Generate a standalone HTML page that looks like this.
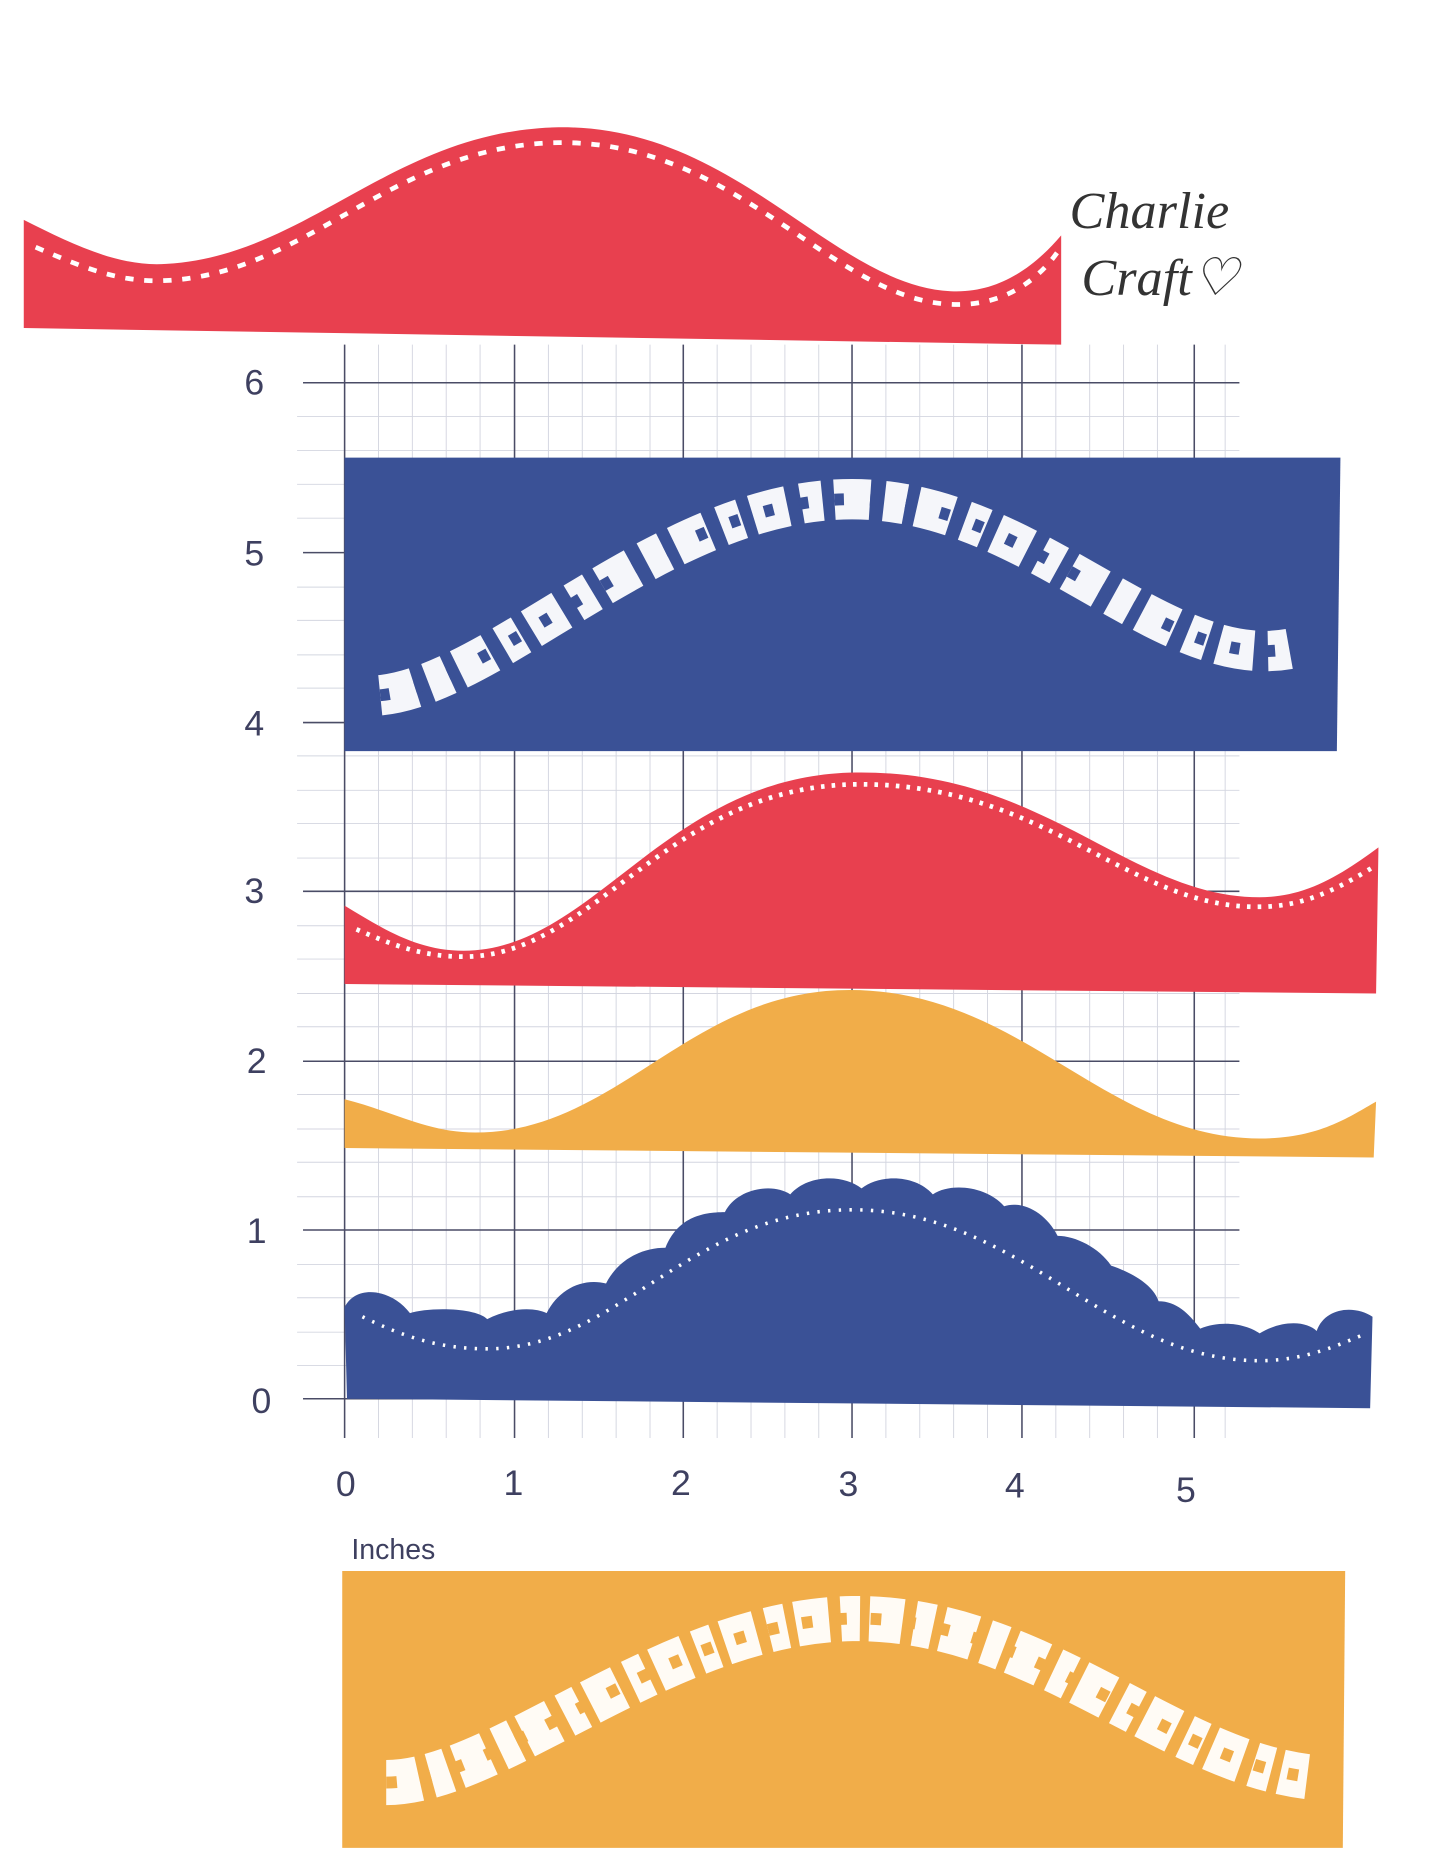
<!DOCTYPE html>
<html><head><meta charset="utf-8"><style>html,body{margin:0;padding:0;background:#fff}svg{display:block}</style></head><body>
<svg width="1445" height="1867" viewBox="0 0 1216 1571" xmlns="http://www.w3.org/2000/svg">
<rect width="1216" height="1571" fill="#fff"/>
<!-- minor grid -->
<g stroke="#d4d6e0" stroke-width="0.8">
<path d="M290 290V1210M318.5 290V1210M347 290V1210M375.5 290V1210M404 290V1210M461.5 290V1210M490 290V1210M518.5 290V1210M547 290V1210M603.5 290V1210M632 290V1210M660.5 290V1210M689 290V1210M745.5 290V1210M774 290V1210M802.5 290V1210M831 290V1210M888.5 290V1210M917 290V1210M945.5 290V1210M974 290V1210M1031 290V1210"/>
<path d="M250 350.5H1043M250 379H1043M250 407.5H1043M250 436H1043M250 494H1043M250 522H1043M250 551H1043M250 579H1043M250 636H1043M250 665H1043M250 693H1043M250 722H1043M250 779H1043M250 807H1043M250 836H1043M250 864H1043M250 921H1043M250 950H1043M250 978H1043M250 1007H1043M250 1064H1043M250 1092H1043M250 1121H1043M250 1149H1043"/>
</g>
<g stroke="#4a4c66" stroke-width="1.3">
<path d="M290 290V1210M433 290V1210M575 290V1210M717 290V1210M860 290V1210M1005 290V1210"/>
<path d="M255 322H1043M255 465H1043M255 608H1043M255 750H1043M255 893H1043M255 1035H1043M255 1177H1043"/>
</g>
<g font-family="Liberation Sans, sans-serif" font-size="30" fill="#3e4060" text-anchor="middle">
<text x="214" y="332">6</text><text x="214" y="476">5</text><text x="214" y="619">4</text><text x="214" y="760">3</text><text x="216" y="903">2</text><text x="216" y="1046">1</text><text x="220" y="1189">0</text>
<text x="291" y="1259">0</text><text x="432" y="1258">1</text><text x="573" y="1258">2</text><text x="714" y="1259">3</text><text x="854" y="1260">4</text><text x="998" y="1264">5</text>
<text x="331" y="1312" font-size="24">Inches</text>
</g>
<!-- top red -->
<path d="M20 185 C60 205 100 225 140 222 C260 215 330 110 470 107 C620 105 700 240 800 245 C840 247 870 225 893 198 L893 290 L20 276 Z" fill="#e8404f"/>
<path d="M30 208 C70 225 100 238 140 236 C260 230 330 122 470 120 C620 118 700 252 800 256 C840 258 870 240 890 212" fill="none" stroke="#fff" stroke-width="4" stroke-dasharray="7 9"/>
<text x="900" y="192" font-family="Liberation Serif, serif" font-style="italic" font-size="44" fill="#333">Charlie</text>
<text x="910" y="248" font-family="Liberation Serif, serif" font-style="italic" font-size="44" fill="#333">Craft♡</text>
<!-- blue strip -->
<path d="M290 385 H1128 L1125 632 H290 Z" fill="#3a5196"/>
<path d="M320 585 C420 575 560 420 717 420 C870 420 980 570 1090 545" fill="none" stroke="#fff" stroke-width="34" stroke-dasharray="30 12 18 10" opacity="0.95"/>
<path d="M320 585 C420 575 560 420 717 420 C870 420 980 570 1090 545" fill="none" stroke="#3a5196" stroke-width="10" stroke-dasharray="8 22"/>
<!-- red strip 2 -->
<path d="M290 762 C320 780 350 800 390 800 C500 800 560 652 720 650 C880 648 950 755 1060 755 C1100 755 1130 735 1160 713 L1158 836 L290 828 Z" fill="#e8404f"/>
<path d="M300 782 C330 795 355 805 390 805 C500 805 560 662 720 660 C880 658 950 765 1060 763 C1100 763 1130 745 1155 730" fill="none" stroke="#fff" stroke-width="4" stroke-dasharray="3 6"/>
<!-- orange strip -->
<path d="M290 925 C330 935 360 953 400 953 C520 953 580 833 715 833 C860 833 930 958 1060 958 C1110 958 1135 940 1158 927 L1156 974 L290 966 Z" fill="#f1ad49"/>
<!-- blue scallop -->
<path d="M290 1100 C300 1080 330 1085 345 1105 C360 1100 400 1100 410 1110 C430 1100 450 1100 460 1105 C470 1085 490 1075 510 1080 C520 1060 540 1050 560 1050 C570 1025 590 1020 610 1020 C620 1000 650 995 665 1005 C680 988 710 988 725 1000 C740 988 770 988 785 1005 C800 995 830 998 845 1015 C860 1010 880 1020 890 1040 C905 1040 925 1050 935 1065 C950 1070 970 1080 975 1095 C990 1095 1000 1105 1010 1118 C1030 1110 1050 1115 1060 1122 C1080 1110 1100 1112 1108 1120 C1115 1100 1140 1098 1155 1108 L1153 1185 L292 1177 Z" fill="#3a5196"/>
<path d="M305 1108 C340 1125 370 1135 410 1135 C520 1135 580 1018 717 1018 C860 1018 930 1145 1060 1145 C1100 1145 1130 1130 1150 1122" fill="none" stroke="#fff" stroke-width="3" stroke-dasharray="2 7"/>
<!-- bottom orange -->
<path d="M288 1322 H1132 L1130 1555 H288 Z" fill="#f1ad49"/>
<path d="M325 1500 C420 1500 560 1365 717 1362 C870 1360 980 1480 1100 1495" fill="none" stroke="#fff" stroke-width="38" stroke-dasharray="28 10 16 8" opacity="0.95"/>
<path d="M325 1500 C420 1500 560 1365 717 1362 C870 1360 980 1480 1100 1495" fill="none" stroke="#f1ad49" stroke-width="10" stroke-dasharray="9 20"/>
</svg>
</body></html>
